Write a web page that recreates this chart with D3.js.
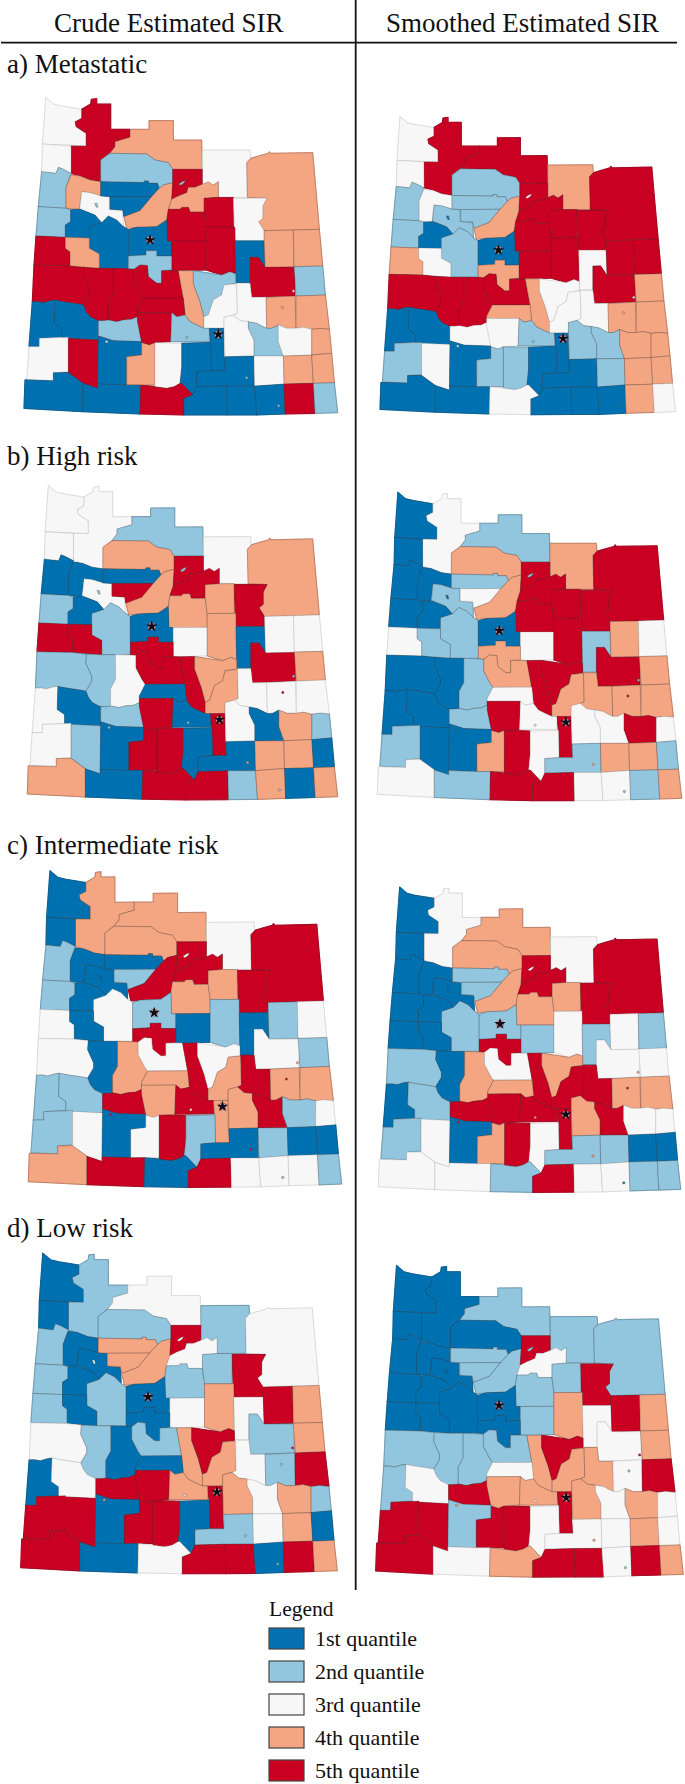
<!DOCTYPE html>
<html>
  <head>
    <meta charset="UTF-8" />
    <title>Crude and smoothed estimated SIR</title>
    <script src="https://d3js.org/d3.v7.min.js"></script>
    <style>
      html, body { margin: 0; padding: 0; background: #fff; }
      text { font-family: "Liberation Serif", serif; fill: #111; }
    </style>
  </head>

  <body>
    <div id="main"></div>
    <script type="text/javascript">
      const width = 685;
      const height = 1784;

      const columnTitles = ['Crude Estimated SIR', 'Smoothed Estimated SIR'];
      const rowTitles = ['a) Metastatic', 'b) High risk', 'c) Intermediate risk', 'd) Low risk'];
      const legendLabels = ['1st quantile', '2nd quantile', '3rd quantile', '4th quantile', '5th quantile'];
      const quantileColors = ['#0571b0', '#92c5de', '#f7f7f7', '#f4a582', '#ca0020'];

      // Quantile (1-5) of each health region, same order as regionRings
      const crudeMetastatic = [3,5,4,2,3,4,3,2,4,3, 1,1,4,5,4,5,5,3,2,1, 1,1,5,4,5,5,1,2,4,4, 5,2,5,5,5,5,4,2,3,3, 4,4,1,1,2,5,5,2,1,3, 2,3,4,3,5,1,4,3,1,1, 3,4,4,1,1,5,1,1,1,5, 2];
      const smoothMetastatic = [3,5,5,2,4,5,3,2,3,2, 2,2,4,5,5,5,5,5,2,1, 2,1,4,3,5,5,3,4,5,5, 5,4,5,5,5,5,4,3,3,3, 4,4,1,1,3,4,3,2,1,2, 2,4,4,2,3,1,2,2,1,1, 2,4,4,1,1,3,1,1,1,4, 3];
      const crudeHigh = [3,3,2,4,3,4,3,1,1,3, 1,5,4,5,5,4,4,5,2,1, 2,1,5,5,3,4,1,5,3,3, 5,4,2,2,3,5,5,4,4,3, 3,3,3,1,2,1,5,1,5,3, 1,4,2,3,2,1,5,5,1,1, 4,4,1,4,1,5,5,2,4,1, 4];
      const smoothHigh = [1,3,2,4,4,5,1,1,1,2, 2,3,4,5,5,5,5,5,1,1, 2,1,3,2,3,5,2,4,4,3, 5,4,1,1,2,4,5,5,4,4, 4,4,1,1,2,3,5,3,5,3, 3,5,3,2,1,1,4,5,3,2, 4,4,2,3,2,5,5,3,3,2, 4];
      const crudeIntermediate = [1,4,4,4,3,5,1,2,1,1, 1,2,5,5,5,4,4,5,2,1, 3,2,3,1,1,2,1,5,2,3, 3,2,3,1,4,3,5,3,4,5, 4,4,2,2,5,4,4,5,4,4, 5,2,3,2,3,1,3,5,2,1, 2,1,1,4,5,1,5,3,3,3, 2];
      const smoothIntermediate = [1,3,4,4,3,5,1,1,1,1, 2,2,4,5,5,4,4,5,1,1, 2,2,1,1,2,3,2,5,3,2, 3,3,2,1,4,3,5,4,5,5, 4,4,1,2,5,4,5,5,5,4, 5,3,3,2,3,1,4,5,3,2, 2,1,1,3,3,2,5,3,3,2, 2];
      const crudeLow = [1,2,3,2,2,3,1,2,1,1, 4,4,4,5,3,2,2,5,2,1, 2,1,2,1,3,4,3,1,5,4, 2,4,3,2,1,2,4,5,4,3, 2,5,1,3,5,1,5,4,5,4, 3,4,2,5,5,1,5,5,1,2, 3,4,1,5,1,3,5,5,1,5, 4];
      const smoothLow = [1,1,2,1,2,2,1,1,1,1, 2,2,2,5,3,2,2,5,1,1, 1,1,1,1,2,4,3,1,5,4, 3,4,2,2,2,2,4,5,4,4, 3,5,2,3,5,3,4,4,5,4, 3,4,3,5,5,2,5,5,3,3, 3,4,3,5,3,4,5,5,3,5, 4];

      // Quantile of the small town and lake enclaves
      const enclaveQuantiles = [
        [3,4,3,2,2,2,2,2], [3,4,3,2,1,1,3,1],
        [2,5,2,2,4,2,2,2], [2,5,1,3,4,2,2,1],
        [4,5,5,3,5,2,3,1], [4,5,5,4,4,1,3,1],
        [5,2,4,3,2,2,3,3], [5,2,4,3,4,2,2,1]
      ];

      // Region outlines (its 3x crop pixels)
      const regionRings = [
        '137,292 160,312 185,318 245,328 245,355 225,365 228,380 258,400 258,438 127,432',
        '245,328 272,312 274,298 290,296 290,312 332,312 332,388 390,388 390,412 345,425 345,440 330,458 302,480 302,545 270,540 240,528 213,520 213,438 258,438 258,400 228,380 225,365 245,355',
        '390,388 447,388 447,362 520,362 520,420 605,420 607,508 518,508 505,488 465,480 440,462 330,460 345,440 345,425 390,412',
        '302,480 330,460 440,462 465,480 505,488 518,508 518,548 490,555 478,565 472,550 445,550 445,543 432,543 432,548 302,545',
        '607,450 750,450 752,475 740,488 742,592 700,592 655,592 655,545 640,555 607,553',
        '740,488 752,475 775,468 805,460 808,455 812,460 938,458 945,540 958,688 880,690 792,692 775,665 788,655 788,618 800,595 742,592',
        '127,432 213,438 213,520 190,508 175,502 168,520 125,515',
        '125,515 168,520 175,502 190,508 213,520 198,562 198,625 115,620',
        '213,525 240,528 270,540 302,545 302,588 270,578 245,575 238,628 198,625 198,562',
        '245,575 270,578 302,588 328,590 328,628 368,632 370,680 350,660 325,648 305,668 285,645 240,625',
        '302,545 432,548 432,543 445,543 445,550 472,550 478,565 455,590 330,590 302,588',
        '330,590 455,590 420,632 372,650 368,630 330,628',
        '518,548 515,598 505,628 500,660 470,680 410,682 380,685 372,650 420,632 455,590 478,565 490,555',
        '518,508 607,508 607,553 585,562 565,562 560,578 535,588 515,598 518,548',
        '560,578 565,562 585,562 607,553 625,545 640,555 655,545 655,592 612,595 612,636 570,636 565,622 540,628 505,628 515,598 535,588',
        '505,628 540,628 545,622 565,622 570,636 612,636 618,682 618,724 515,724 502,724 500,660',
        '612,595 655,592 700,592 700,682 618,682 612,636',
        '700,595 800,595 788,618 788,655 775,665 792,692 792,722 705,722',
        '115,620 198,625 212,630 212,665 196,675 196,712 108,708',
        '212,630 238,628 285,645 305,668 270,680 268,714 196,712 196,675 212,665',
        '268,680 305,668 325,648 350,660 370,680 385,690 385,805 298,805 298,762 268,745',
        '385,690 410,682 470,680 500,660 502,724 515,724 515,768 470,768 470,752 438,752 438,765 385,768',
        '108,708 196,712 196,745 210,755 210,798 102,795',
        '196,712 268,714 268,745 298,762 298,805 210,798 210,755 196,745',
        '515,724 618,724 618,810 535,812 515,810',
        '618,682 705,682 707,822 690,815 665,825 618,810',
        '705,722 792,722 795,802 775,772 750,772 750,848 708,848',
        '385,768 438,765 438,752 470,752 470,768 515,768 515,810 485,812 485,850 470,850 445,830 442,797 420,795 402,808 385,806',
        '792,692 880,690 882,800 795,802',
        '880,690 958,688 968,798 882,800',
        '750,772 775,772 795,802 885,802 885,888 755,892 750,848',
        '882,800 968,798 976,885 888,888',
        '102,795 210,798 252,803 250,830 268,870 268,885 250,915 235,912 210,908 190,905 165,900 150,902 130,908 115,905 97,905',
        '252,803 298,805 340,805 340,880 325,908 325,962 310,962 290,962 270,950 258,935 250,915 268,885 268,870 250,830',
        '340,805 402,808 402,845 420,880 430,895 412,930 412,950 395,958 370,960 350,965 325,960 325,908 340,880',
        '402,808 420,795 442,797 445,830 470,850 485,850 485,812 535,812 550,895 430,895 420,880 402,845',
        '535,812 580,812 580,850 600,905 612,950 612,985 590,975 570,965 555,945 550,895',
        '580,812 665,825 690,815 707,822 707,850 672,855 665,885 640,900 625,945 612,950 600,905 580,850',
        '672,855 710,852 712,940 700,945 672,952 672,985 612,985 612,950 625,945 640,900 665,885',
        '710,850 750,850 755,892 798,892 800,985 785,978 770,970 745,965 720,962 700,945 712,940',
        '798,892 885,888 888,985 860,985 835,975 815,985 800,985',
        '888,888 976,885 988,988 960,985 935,988 910,982 888,985',
        '97,905 115,905 130,908 150,902 165,900 163,970 185,985 185,1012 120,1015 118,1040 87,1040',
        '165,900 190,905 210,908 235,912 250,915 258,935 270,950 295,962 295,1020 185,1015 185,985 163,970',
        '295,962 310,962 325,960 350,965 370,960 395,958 412,950 425,1025 340,1022 295,1008',
        '430,895 550,895 555,945 530,950 515,938 412,938 412,930',
        '412,938 515,938 512,1025 465,1028 448,1035 425,1028 412,965',
        '515,938 530,950 555,945 570,965 590,975 612,985 628,985 628,1025 512,1025',
        '628,985 672,985 672,1070 676,1112 634,1112 632,1028',
        '672,952 700,945 720,962 745,965 745,985 762,1020 762,1068 675,1070 672,985',
        '745,965 770,970 785,978 800,985 815,985 835,975 835,1025 850,1068 762,1068 762,1020 745,985',
        '835,975 860,985 888,985 910,982 935,988 935,1065 850,1068 835,1025',
        '935,988 960,985 988,988 995,1060 935,1065',
        '118,1015 120,1015 205,1012 205,1115 160,1118 160,1142 80,1138 87,1040 118,1040',
        '205,1015 295,1020 293,1165 250,1150 205,1118',
        '295,1008 340,1022 425,1025 425,1065 380,1070 380,1155 293,1152',
        '425,1028 448,1035 465,1028 465,1155 380,1155 380,1070 425,1065',
        '465,1028 545,1030 545,1100 540,1150 522,1160 500,1165 465,1160',
        '545,1030 632,1028 634,1112 590,1115 590,1160 578,1185 545,1150 540,1150 545,1100',
        '590,1115 634,1112 676,1112 675,1070 762,1068 764,1158 680,1158 590,1160',
        '762,1068 850,1068 852,1152 764,1158',
        '850,1068 935,1065 940,1150 852,1152',
        '935,1065 995,1060 1003,1148 940,1150',
        '75,1140 160,1142 160,1118 205,1118 248,1150 248,1235 72,1225',
        '248,1150 293,1165 293,1152 380,1155 422,1155 420,1242 248,1235',
        '422,1155 465,1160 500,1165 522,1160 540,1150 545,1150 578,1185 552,1195 552,1245 420,1242',
        '552,1195 578,1185 590,1160 680,1158 682,1245 552,1245',
        '680,1158 764,1158 770,1245 682,1245',
        '764,1158 852,1152 855,1242 770,1245',
        '852,1152 940,1150 945,1240 855,1242',
        '940,1150 1003,1148 1013,1238 945,1240'
      ];

      const townPoints = [[880,873], [847,922], [320,1025], [560,1012], [740,1133], [836,1217]];
      const lakeRings = [
        '536,552 546,545 556,541 552,549 542,556',
        '284,610 291,610 294,622 288,621'
      ];
      const starPoints = [[450,720], [655,1003]];

      // Where each map's NW, SW, SE and NE corners land on the page
      const mapCorners = [
        [[45.7,97.3], [24,408.3], [337.7,412.7], [312.7,152.7]],
        [[400,115.7], [380,409.3], [675.7,411.7], [651.7,167.7]],
        [[48.3,485], [27.3,794], [337.7,796.7], [312.7,539.3]],
        [[397.7,492.3], [377.3,794.3], [681.7,798.3], [657.3,545.7]],
        [[50,870], [28.3,1181.7], [341.7,1184], [316.7,925]],
        [[400,886.7], [378.3,1186.7], [680.7,1189.3], [656.7,939.3]],
        [[42.3,1252.7], [20.7,1567.7], [337.3,1570.7], [312.7,1308.3]],
        [[396.7,1265], [375.7,1571], [683.3,1574.3], [658.3,1319.3]]
      ];
      const baseCorners = [[137,292], [72,1225], [1013,1238], [938,458]];

      const mapValues = [
        crudeMetastatic, smoothMetastatic, crudeHigh, smoothHigh,
        crudeIntermediate, smoothIntermediate, crudeLow, smoothLow
      ];

      const parseRing = (s) => {
        const pts = s.split(' ').map((p) => p.split(',').map(Number));
        pts.push(pts[0]);
        return pts;
      };

      const polygon = (s) => ({ type: 'Polygon', coordinates: [parseRing(s)] });

      // Affine fit through SW, SE and the middle of the top edge
      function cornerTransform(corners) {
        const mid = (c) => [(c[0][0] + c[3][0]) / 2, (c[0][1] + c[3][1]) / 2];
        const s = [baseCorners[1], baseCorners[2], mid(baseCorners)];
        const t = [corners[1], corners[2], mid(corners)];
        const det =
          s[0][0] * (s[1][1] - s[2][1]) -
          s[0][1] * (s[1][0] - s[2][0]) +
          (s[1][0] * s[2][1] - s[2][0] * s[1][1]);
        const solve = (k) => {
          const v = t.map((p) => p[k]);
          const a = (v[0] * (s[1][1] - s[2][1]) - s[0][1] * (v[1] - v[2]) + (v[1] * s[2][1] - v[2] * s[1][1])) / det;
          const b = (s[0][0] * (v[1] - v[2]) - v[0] * (s[1][0] - s[2][0]) + (s[1][0] * v[2] - s[2][0] * v[1])) / det;
          const c = v[0] - a * s[0][0] - b * s[0][1];
          return [a, b, c];
        };
        const fx = solve(0);
        const fy = solve(1);
        return (x, y) => [fx[0] * x + fx[1] * y + fx[2], fy[0] * x + fy[1] * y + fy[2]];
      }

      const color = d3.scaleOrdinal().domain([1, 2, 3, 4, 5]).range(quantileColors);

      const svg = d3
        .select('div#main')
        .append('svg')
        .attr('width', width)
        .attr('height', height)
        .style('display', 'block');

      svg
        .append('defs')
        .append('filter')
        .attr('id', 'soft')
        .append('feGaussianBlur')
        .attr('stdDeviation', 0.35);

      // Maps
      const regions = regionRings.map(polygon);
      const lakes = lakeRings.map(polygon);

      mapCorners.forEach((corners, i) => {
        const toPage = cornerTransform(corners);
        const path = d3
          .geoPath(
            d3.geoTransform({
              point(x, y) {
                const p = toPage(x, y);
                this.stream.point(p[0], p[1]);
              }
            })
          )
          .pointRadius(1.2);

        const g = svg.append('g').attr('filter', 'url(#soft)');

        // underlay closes hairline gaps between the traced outlines
        g.selectAll('path.under')
          .data(regions)
          .join('path')
          .attr('class', 'under')
          .attr('d', path)
          .attr('fill', (d, j) => color(mapValues[i][j]))
          .attr('stroke', (d, j) => color(mapValues[i][j]))
          .attr('stroke-width', 1.2)
          .attr('stroke-linejoin', 'round');

        g.selectAll('path.region')
          .data(regions)
          .join('path')
          .attr('class', 'region')
          .attr('d', path)
          .attr('fill', (d, j) => color(mapValues[i][j]))
          .attr('stroke', (d, j) => (mapValues[i][j] === 3 ? '#9a9a9a' : '#3a3a3a'))
          .attr('stroke-opacity', 0.6)
          .attr('stroke-width', 0.5)
          .attr('stroke-linejoin', 'round');

        const enclaves = enclaveQuantiles[i];

        g.selectAll('path.town')
          .data(townPoints)
          .join('path')
          .attr('class', 'town')
          .attr('d', (d) => path({ type: 'Point', coordinates: d }))
          .attr('fill', (d, j) => color(enclaves[j]))
          .attr('stroke', '#555')
          .attr('stroke-width', 0.4);

        g.selectAll('path.lake')
          .data(lakes)
          .join('path')
          .attr('class', 'lake')
          .attr('d', path)
          .attr('fill', (d, j) => color(enclaves[6 + j]))
          .attr('stroke', '#333')
          .attr('stroke-width', 0.3);

        starPoints.forEach((pt) => {
          const p = toPage(pt[0], pt[1]);
          g.append('circle')
            .attr('cx', p[0])
            .attr('cy', p[1])
            .attr('r', 3.6)
            .attr('fill', '#f7e3e3')
            .attr('stroke', '#a0202c')
            .attr('stroke-width', 0.6);
          g.append('path')
            .attr('d', d3.symbol().type(d3.symbolStar).size(40)())
            .attr('transform', `translate(${p[0]},${p[1]})`)
            .attr('fill', '#0a0a14');
        });
      });

      // Frame lines
      const rules = [
        [1, 42.7, 677, 42.7],
        [355.7, 0, 355.7, 1590]
      ];
      svg
        .selectAll('line.rule')
        .data(rules)
        .join('line')
        .attr('class', 'rule')
        .attr('x1', (d) => d[0])
        .attr('y1', (d) => d[1])
        .attr('x2', (d) => d[2])
        .attr('y2', (d) => d[3])
        .attr('stroke', '#111')
        .attr('stroke-width', 1.8);

      // Titles
      svg
        .selectAll('text.column')
        .data(columnTitles)
        .join('text')
        .attr('class', 'column')
        .attr('x', (d, i) => (i === 0 ? 54 : 386))
        .attr('y', 32)
        .attr('font-size', 27)
        .text((d) => d);

      const rowY = [73, 465, 854, 1237];
      svg
        .selectAll('text.row')
        .data(rowTitles)
        .join('text')
        .attr('class', 'row')
        .attr('x', 7)
        .attr('y', (d, i) => rowY[i])
        .attr('font-size', 27)
        .text((d) => d);

      // Legend
      const legendY = d3.scaleBand().domain(legendLabels).range([1628, 1793]);
      svg
        .append('text')
        .attr('x', 269)
        .attr('y', 1616)
        .attr('font-size', 21.5)
        .text('Legend');

      const legend = svg
        .selectAll('g.key')
        .data(legendLabels)
        .join('g')
        .attr('class', 'key')
        .attr('transform', (d) => `translate(269,${legendY(d)})`);

      legend
        .append('rect')
        .attr('width', 35)
        .attr('height', 21)
        .attr('fill', (d, i) => quantileColors[i])
        .attr('stroke', '#444')
        .attr('stroke-width', 1.2);

      legend
        .append('text')
        .attr('x', 46)
        .attr('y', 18)
        .attr('font-size', 22)
        .text((d) => d);
    </script>
  </body>
</html>
